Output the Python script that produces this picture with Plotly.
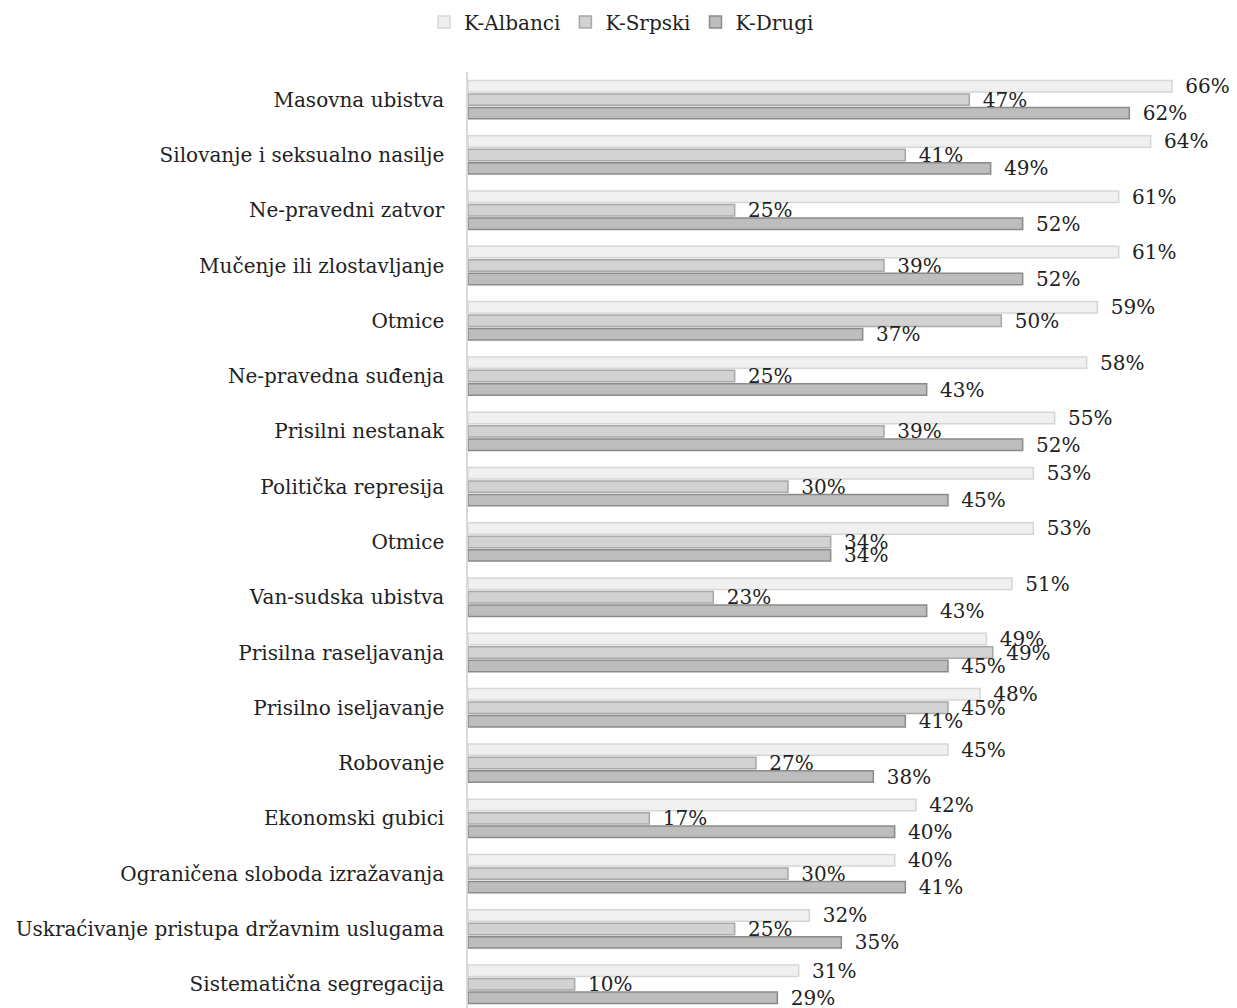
import plotly.graph_objects as go

categories = [
    "Masovna ubistva",
    "Silovanje i seksualno nasilje",
    "Ne-pravedni zatvor",
    "Mučenje ili zlostavljanje",
    "Otmice",
    "Ne-pravedna suđenja",
    "Prisilni nestanak",
    "Politička represija",
    "Otmice",
    "Van-sudska ubistva",
    "Prisilna raseljavanja",
    "Prisilno iseljavanje",
    "Robovanje",
    "Ekonomski gubici",
    "Ograničena sloboda izražavanja",
    "Uskraćivanje pristupa državnim uslugama",
    "Sistematična segregacija",
]
albanci = [66, 64, 61, 61, 59, 58, 55, 53, 53, 51, 48.6, 48, 45, 42, 40, 32, 31]
srpski = [47, 41, 25, 39, 50, 25, 39, 30, 34, 23, 49.2, 45, 27, 17, 30, 25, 10]
drugi = [62, 49, 52, 52, 37, 43, 52, 45, 34, 43, 45, 41, 38, 40, 41, 35, 29]
series_names = ["K-Albanci", "K-Srpski", "K-Drugi"]

positions = list(range(len(categories)))

FONT = "DejaVu Serif"
styles = [
    dict(fill="#f0f0f0", line="#d6d6d6"),
    dict(fill="#d2d2d2", line="#a8a8a8"),
    dict(fill="#bdbdbd", line="#8a8a8a"),
]

fig = go.Figure()
for name, vals, st in zip(series_names, [albanci, srpski, drugi], styles):
    fig.add_trace(go.Bar(
        name=name,
        y=positions,
        x=vals,
        orientation="h",
        marker=dict(color=st["fill"], line=dict(color=st["line"], width=1.5)),
        text=[f"\u00a0\u2009{v:.0f}%" for v in vals],
        textposition="outside",
        constraintext="none",
        textangle=0,
        textfont=dict(family=FONT, size=20, color="#222222"),
        cliponaxis=False,
        hoverinfo="skip",
    ))

fig.update_layout(
    width=1237,
    height=1008,
    barmode="group",
    bargap=0.27,
    bargroupgap=0.15,
    plot_bgcolor="white",
    paper_bgcolor="white",
    margin=dict(l=455, r=9, t=64, b=8),
    font=dict(family=FONT, size=20, color="#222222"),
    uniformtext=dict(mode=False),
    legend=dict(
        orientation="h",
        x=0.2, xanchor="center",
        yref="container", y=0.986, yanchor="middle",
        font=dict(family=FONT, size=20, color="#222222"),
        itemwidth=30,
        traceorder="normal",
    ),
    xaxis=dict(
        range=[0, 72],
        visible=False,
        fixedrange=True,
    ),
    yaxis=dict(
        tickmode="array",
        tickvals=positions,
        ticktext=categories,
        range=[16.43, -0.5],
        showline=True,
        linecolor="#d9d9d9",
        linewidth=1.5,
        ticks="outside",
        ticklen=18,
        tickcolor="rgba(0,0,0,0)",
        showgrid=False,
        zeroline=False,
        tickfont=dict(family=FONT, size=20, color="#222222"),
    ),
)

fig.write_html("out.html")
